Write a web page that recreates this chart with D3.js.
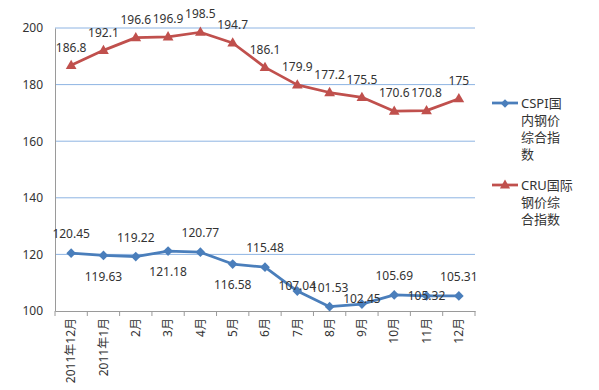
<!DOCTYPE html>
<html lang="zh">
<head>
<meta charset="UTF-8">
<title>CSPI / CRU 钢价指数</title>
<script src="https://d3js.org/d3.v7.min.js"></script>
<style>
  body { margin: 0; background: #fff; }
  text { font-family: "Noto Sans", "Noto Sans CJK SC", sans-serif; fill: #333; }
</style>
</head>
<body>
<script>
// 数据
const months = ["2011年12月", "2011年1月", "2月", "3月", "4月", "5月", "6月",
                "7月", "8月", "9月", "10月", "11月", "12月"];
const cspi = [120.45, 119.63, 119.22, 121.18, 120.77, 116.58, 115.48,
              107.04, 101.53, 102.45, 105.69, 105.32, 105.31];
const cru = [186.8, 192.1, 196.6, 196.9, 198.5, 194.7, 186.1,
             179.9, 177.2, 175.5, 170.6, 170.8, 175];
const yTicks = [100, 120, 140, 160, 180, 200];
// 蓝线数据标签位置 (a=上, b=下, n=贴近, c=居中)
const cspiLabelPos = ["a", "b", "a", "b", "a", "b", "a", "n", "a", "n", "a", "c", "a"];

const width = 599, height = 390;
const m = { left: 55, right: 124, top: 28, bottom: 79 };

const svg = d3.select("body").append("svg")
    .attr("width", width)
    .attr("height", height);

const x = d3.scaleBand()
    .domain(months)
    .range([m.left, width - m.right]);

const y = d3.scaleLinear()
    .domain([100, 200])
    .range([height - m.bottom, m.top]);

const cx = d => x(d) + x.bandwidth() / 2;

// 网格线
svg.append("g")
    .selectAll("line")
    .data(yTicks.filter(t => t > 100))
    .enter().append("line")
    .attr("x1", m.left).attr("x2", width - m.right)
    .attr("y1", d => y(d)).attr("y2", d => y(d))
    .attr("stroke", "#8eb4e3")
    .attr("stroke-width", 1);

// y 轴
const yAxis = svg.append("g")
    .attr("transform", `translate(${m.left},0)`)
    .call(d3.axisLeft(y).tickValues(yTicks).tickSize(0).tickPadding(12));
yAxis.select(".domain").attr("stroke", "#9a9a9a");
yAxis.selectAll("text").style("font-size", "12px").attr("fill", "#333");

// x 轴
const xAxis = svg.append("g")
    .attr("transform", `translate(0,${y(100)})`)
    .call(d3.axisBottom(x).tickSize(0).tickPadding(0));
xAxis.select(".domain").attr("stroke", "#9a9a9a");
xAxis.selectAll("text")
    .style("font-size", "12px")
    .attr("fill", "#333")
    .attr("text-anchor", "end")
    .attr("transform", "rotate(-90)")
    .attr("x", -7)
    .attr("y", 0)
    .attr("dy", "0.35em");

// 刻度线 (位于类别之间)
svg.append("g")
    .selectAll("line")
    .data(months.map(d => x(d)).concat([width - m.right]))
    .enter().append("line")
    .attr("x1", d => d).attr("x2", d => d)
    .attr("y1", y(100)).attr("y2", y(100) + 5)
    .attr("stroke", "#9a9a9a");

const line = d3.line()
    .x((d, i) => cx(months[i]))
    .y(d => y(d));

const blue = "#4a7ebb", red = "#c0504d";

// CRU 折线
svg.append("path")
    .datum(cru)
    .attr("d", line)
    .attr("fill", "none")
    .attr("stroke", red)
    .attr("stroke-width", 2.75)
    .attr("stroke-linejoin", "round");

svg.append("g")
    .selectAll("path")
    .data(cru)
    .enter().append("path")
    .attr("d", d3.symbol().type(d3.symbolTriangle).size(50))
    .attr("transform", (d, i) => `translate(${cx(months[i])},${y(d) + 0.5})`)
    .attr("fill", red);

// CSPI 折线
svg.append("path")
    .datum(cspi)
    .attr("d", line)
    .attr("fill", "none")
    .attr("stroke", blue)
    .attr("stroke-width", 2.75)
    .attr("stroke-linejoin", "round");

svg.append("g")
    .selectAll("path")
    .data(cspi)
    .enter().append("path")
    .attr("d", d3.symbol().type(d3.symbolDiamond2).size(60))
    .attr("transform", (d, i) => `translate(${cx(months[i])},${y(d)})`)
    .attr("fill", blue);

// 数据标签
svg.append("g")
    .selectAll("text")
    .data(cru)
    .enter().append("text")
    .attr("x", (d, i) => cx(months[i]))
    .attr("y", d => y(d) - 18)
    .attr("dy", "0.35em")
    .attr("text-anchor", "middle")
    .style("font-size", "12px")
    .text(d => d);

const posOffset = { a: -19, b: 21, n: -5, c: 0 };
svg.append("g")
    .selectAll("text")
    .data(cspi)
    .enter().append("text")
    .attr("x", (d, i) => cx(months[i]))
    .attr("y", (d, i) => y(d) + posOffset[cspiLabelPos[i]])
    .attr("dy", "0.35em")
    .attr("text-anchor", "middle")
    .style("font-size", "12px")
    .text(d => d.toFixed(2));

// 图例
const legend = [
    { lines: ["CSPI国", "内钢价", "综合指", "数"], color: blue, sym: d3.symbolDiamond2, y: 103 },
    { lines: ["CRU国际", "钢价综", "合指数"], color: red, sym: d3.symbolTriangle, y: 185 }
];
const lg = svg.append("g").selectAll("g")
    .data(legend)
    .enter().append("g")
    .attr("transform", d => `translate(492,${d.y})`);

lg.append("line")
    .attr("x1", 0).attr("x2", 26)
    .attr("stroke", d => d.color)
    .attr("stroke-width", 2.75);

lg.append("path")
    .attr("d", d => d3.symbol().type(d.sym).size(45)())
    .attr("transform", "translate(13,0.5)")
    .attr("fill", d => d.color);

lg.append("text")
    .style("font-size", "13px")
    .selectAll("tspan")
    .data(d => d.lines)
    .enter().append("tspan")
    .attr("x", 29)
    .attr("y", (d, i) => i * 17)
    .attr("dy", "0.35em")
    .text(d => d);
</script>
</body>
</html>
